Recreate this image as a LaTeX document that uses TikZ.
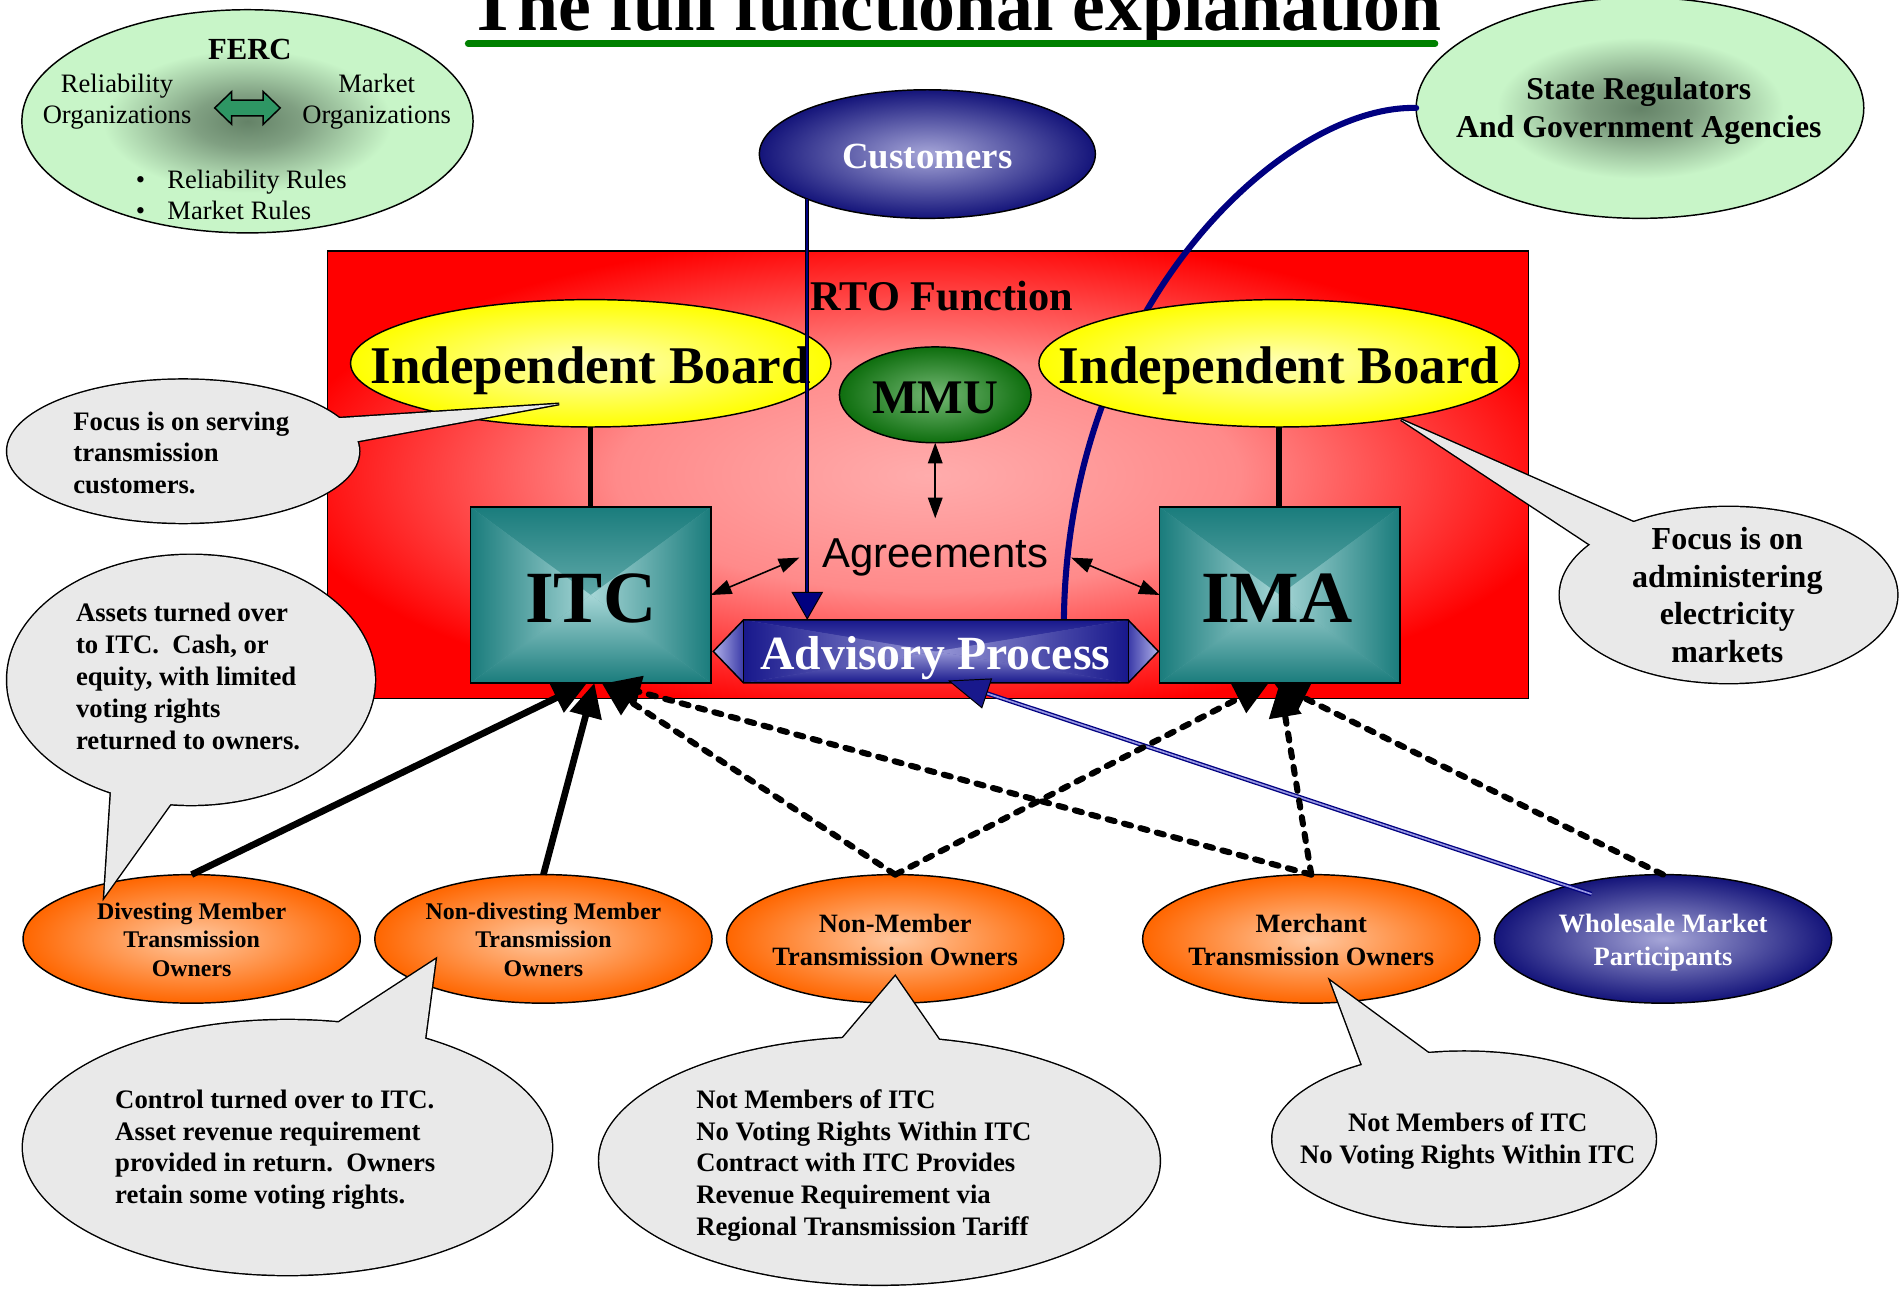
\documentclass[tikz,border=0pt]{standalone}
\usepackage{fontspec}
\setmainfont{Liberation Serif}
\newfontfamily\arialfont{Liberation Sans}
\usetikzlibrary{shapes.geometric,arrows.meta,calc}

\definecolor{navyline}{RGB}{0,0,128}
\definecolor{fercedge}{RGB}{200,245,200}
\definecolor{fercmid}{RGB}{100,130,103}
\definecolor{fercblend}{RGB}{128,160,130}
\definecolor{redbox}{RGB}{255,0,0}
\definecolor{redmid}{RGB}{255,172,172}
\definecolor{redblend}{RGB}{255,138,138}
\definecolor{tealedge}{RGB}{26,124,124}
\definecolor{tealmid}{RGB}{166,214,214}
\definecolor{yellowedge}{RGB}{255,255,0}
\definecolor{yellowmid}{RGB}{255,255,185}
\definecolor{greenedge}{RGB}{14,110,14}
\definecolor{greenmid}{RGB}{116,184,116}
\definecolor{orangeedge}{RGB}{255,102,0}
\definecolor{orangemid}{RGB}{255,200,160}
\definecolor{navyedge}{RGB}{20,20,122}
\definecolor{navymid}{RGB}{166,166,216}
\definecolor{advedge}{RGB}{24,24,140}
\definecolor{advmid}{RGB}{150,150,214}
\definecolor{caplight}{RGB}{176,176,232}
\definecolor{capdark}{RGB}{58,58,168}
\definecolor{calloutgray}{RGB}{233,233,233}
\definecolor{arrowgreen}{RGB}{46,150,100}
\definecolor{titlegreen}{RGB}{0,128,0}
\definecolor{lavender}{RGB}{150,150,225}

% pale green ovals with a dark core
\pgfdeclareradialshading{regulator}{\pgfpoint{0bp}{0bp}}{%
  color(0bp)=(fercmid); color(6bp)=(fercblend); color(16bp)=(fercedge);
  color(25bp)=(fercedge); color(50bp)=(fercedge)}
% glowing centre of the RTO box
\pgfdeclareradialshading{rtoglow}{\pgfpoint{0bp}{0bp}}{%
  color(0bp)=(redmid); color(13bp)=(redblend); color(27bp)=(redbox);
  color(50bp)=(redbox)}

\newcommand\setfs[2]{\fontsize{#1bp}{#2bp}\selectfont}
\newcommand\tb[2]{\begin{tabular}[t]{@{}#1@{}}#2\end{tabular}}

\begin{document}
\begin{tikzpicture}[x=1bp, y=-1bp,
  lbl/.style={inner sep=0pt, outer sep=0pt, anchor=base},
  oval/.style={ellipse, inner sep=0pt, outer sep=0pt, draw=black, line width=1.2bp},
  box/.style={rectangle, inner sep=0pt, outer sep=0pt, draw=black, line width=1.2bp},
  pyramid/.style 2 args={fill=#1!50!#2, path picture={
    \shade[top color=#1, bottom color=#2] (path picture bounding box.north west) -- (path picture bounding box.north east) -- (path picture bounding box.center) -- cycle;
    \shade[top color=#2, bottom color=#1] (path picture bounding box.south west) -- (path picture bounding box.south east) -- (path picture bounding box.center) -- cycle;
    \shade[left color=#1, right color=#2] (path picture bounding box.north west) -- (path picture bounding box.south west) -- (path picture bounding box.center) -- cycle;
    \shade[left color=#2, right color=#1] (path picture bounding box.north east) -- (path picture bounding box.south east) -- (path picture bounding box.center) -- cycle;
  }},
  orangeoval/.style={oval, shade, shading=radial, inner color=orangemid, outer color=orangeedge, minimum width=278bp, minimum height=106bp},
  navyoval/.style={oval, shade, shading=radial, inner color=navymid, outer color=navyedge},
  boardoval/.style={oval, shade, shading=radial, inner color=yellowmid, outer color=yellowedge, minimum width=396bp, minimum height=105bp},
  greenoval/.style={oval, shade, shading=regulator},
  calloutedge/.style={ellipse, inner sep=0pt, outer sep=0pt, draw=black, line width=2.4bp},
  calloutfill/.style={ellipse, inner sep=0pt, outer sep=0pt, fill=calloutgray},
  tailedge/.style={draw=black, line width=2.4bp, line join=miter},
  bigtip/.style={arrows={-Triangle[length=28bp,width=26bp]}},
  solidfeed/.style={line width=5.5bp, bigtip},
  dashfeed/.style={line width=5bp, line cap=round, dash pattern=on 6bp off 8bp, bigtip},
  twoway/.style={line width=1.3bp, arrows={Triangle[length=17bp,width=12bp]-Triangle[length=17bp,width=12bp]}},
  custline/.style={draw=navyline, line width=1.6bp,
    preaction={draw=black, line width=3.2bp, -, shorten >=12bp},
    arrows={-Triangle[length=23bp,width=26bp,fill=navyline,color=black,line width=0.8bp]}},
  wsline/.style={draw=lavender, line width=1.4bp,
    preaction={draw=navyline, line width=3.6bp, -, shorten >=20bp},
    arrows={-Triangle[length=34bp,width=26bp,fill=advedge,color=black,line width=0.8bp]}}
]
\useasboundingbox (0,0) rectangle (1568,1063);

% ---------- title ----------
\node[lbl, font={\bfseries\setfs{60.8}{70}}] (title) at (787,25) {The full functional explanation};
\draw[titlegreen, line width=5.5bp, line cap=round] (386,36) -- (1183,36);

% ---------- FERC ----------
\node[greenoval, minimum width=372bp, minimum height=184bp] (ferc) at (204,100) {};
\node[lbl, font={\bfseries\setfs{25.3}{30}}] (fercname) at (206,49) {FERC};
\node[lbl, font={\setfs{21.9}{25.3}}] (relorg) at (96.5,76.4) {\tb{c}{Reliability\\Organizations}};
\node[lbl, font={\setfs{21.9}{25.3}}] (mktorg) at (310.5,76.4) {\tb{c}{Market\\Organizations}};
\draw[fill=arrowgreen, line width=1.2bp, line join=miter]
  (177,89) -- (191,75.5) -- (191,82.5) -- (217,82.5) -- (217,75.5) -- (231,89)
  -- (217,102.5) -- (217,95.5) -- (191,95.5) -- (191,102.5) -- cycle;
\node[lbl, anchor=base west, font={\setfs{21.9}{26}}] (relrules) at (112,155) {\makebox[26bp][l]{\textbullet}Reliability Rules};
\node[lbl, anchor=base west, font={\setfs{21.9}{26}}] (mktrules) at (112,181) {\makebox[26bp][l]{\textbullet}Market Rules};

% ---------- state regulators ----------
\node[greenoval, minimum width=369bp, minimum height=182bp] (state) at (1352,89) {};
\node[lbl, font={\bfseries\setfs{26.2}{31}}] (statetext) at (1351,82) {\tb{c}{State Regulators\\And Government Agencies}};

% ---------- customers ----------
\node[navyoval, minimum width=277bp, minimum height=106bp] (cust) at (764.5,127) {};
\node[lbl, text=white, font={\bfseries\setfs{30.4}{36}}] (custtext) at (764.5,139) {Customers};

% ---------- RTO function box ----------
\node[box, line width=1bp, minimum width=990bp, minimum height=369bp, shade, shading=rtoglow] (rto) at (765,391.5) {};
\node[lbl, font={\bfseries\setfs{34.9}{40}}] (rtotext) at (776.5,256) {RTO Function};

% advisory process frame (placed early so the regulator line can reach it)
\node[rectangle, inner sep=0pt, outer sep=0pt, minimum width=317bp, minimum height=52bp] (adv) at (771.5,537) {};

% regulators reach the advisory process
\draw[navyline, line width=5bp, line cap=round] (state.west) .. controls (1060,86) and (880,250) .. ($(adv.north west)!0.833!(adv.north east)$);

% boards and market monitor
\node[boardoval] (ibl) at (487,299.5) {};
\node[lbl, font={\bfseries\setfs{43.7}{50}}] (ibltext) at (487,316) {Independent Board};
\node[boardoval] (ibr) at (1054.5,299.5) {};
\node[lbl, font={\bfseries\setfs{43.7}{50}}] (ibrtext) at (1054.5,316) {Independent Board};
\node[oval, shade, shading=radial, inner color=greenmid, outer color=greenedge, minimum width=158bp, minimum height=79bp] (mmu) at (771,325.5) {};
\node[lbl, font={\bfseries\setfs{39.8}{46}}] (mmutext) at (771,340.6) {MMU};

% ITC and IMA
\node[box, minimum width=198bp, minimum height=145bp, pyramid={tealedge}{tealmid}] (itc) at (487,490.5) {};
\node[lbl, font={\bfseries\setfs{60.7}{70}}] (itctext) at (487,513) {ITC};
\node[box, minimum width=198bp, minimum height=145bp, pyramid={tealedge}{tealmid}] (ima) at (1055,490.5) {};
\node[lbl, font={\bfseries\setfs{60.7}{70}}] (imatext) at (1052.5,513) {IMA};
\draw[line width=4.5bp] (ibl.south) -- (itc.north);
\draw[line width=4.5bp] (ibr.south) -- (ibr.south |- ima.north);

% advisory process body
\node[rectangle, inner sep=0pt, outer sep=0pt, minimum width=317bp, minimum height=52bp, pyramid={advedge}{advmid}] (advbody) at (adv.center) {};
\shade[left color=caplight, right color=capdark] (adv.north west) -- ($(adv.west)+(-25,0)$) -- (adv.south west) -- cycle;
\shade[left color=capdark, right color=caplight] (adv.north east) -- ($(adv.east)+(25,0)$) -- (adv.south east) -- cycle;
\draw[line width=1.2bp, line join=miter] (adv.north west) -- ($(adv.west)+(-25,0)$) -- (adv.south west) -- (adv.south east) -- ($(adv.east)+(25,0)$) -- (adv.north east) -- cycle;
\draw[line width=1bp] (adv.north west) -- (adv.south west) (adv.north east) -- (adv.south east);
\node[lbl, text=white, font={\bfseries\setfs{39.3}{45}}] (advtext) at (771,552) {Advisory Process};

% agreements
\node[anchor=base, outer sep=0pt, inner xsep=19bp, inner ysep=17bp, font={\arialfont\setfs{34.5}{40}}] (agree) at (771,468) {Agreements};
\draw[twoway] (mmu.south) -- (agree.north);
\draw[twoway] (itc.east) -- (agree.west);
\draw[twoway] (agree.east) -- (ima.west);

% customers feed the advisory process
\coordinate (custfoot) at ($(cust.center)+(-99,37)$);
\draw[custline] (custfoot) -- (custfoot |- adv.north);

% ---------- transmission owners and market participants ----------
\node[orangeoval] (div) at (158,774) {};
\node[lbl, font={\bfseries\setfs{19.7}{23.5}}] (divtext) at (158,758) {\tb{c}{Divesting Member\\Transmission\\Owners}};
\node[orangeoval] (nd) at (448,774) {};
\node[lbl, font={\bfseries\setfs{19.7}{23.5}}] (ndtext) at (448,758) {\tb{c}{Non-divesting Member\\Transmission\\Owners}};
\node[orangeoval] (nm) at (738,774) {};
\node[lbl, font={\bfseries\setfs{21.8}{26.6}}] (nmtext) at (738,769) {\tb{c}{Non-Member\\Transmission Owners}};
\node[orangeoval] (mer) at (1081,774) {};
\node[lbl, font={\bfseries\setfs{21.8}{26.6}}] (mertext) at (1081,769) {\tb{c}{Merchant\\Transmission Owners}};
\node[navyoval, minimum width=278bp, minimum height=106bp] (ws) at (1371,774) {};
\node[lbl, text=white, font={\bfseries\setfs{21.9}{26.6}}] (wstext) at (1371,769) {\tb{c}{Wholesale Market\\Participants}};

% wholesale participants feed the advisory process
\coordinate (wsfoot) at ($(ws.center)+(-59,-37)$);
\draw[wsline] (wsfoot) -- ($(adv.south)+(10,-2)$);

% owners into ITC and IMA
\draw[solidfeed] (div.north) -- ($(itc.south)+(-3,0)$);
\draw[solidfeed] (nd.north) -- ($(itc.south)+(3,0)$);
\draw[dashfeed] (nm.north) -- ($(itc.south)+(9,0)$);
\draw[dashfeed] (mer.north) -- ($(itc.south)+(13,0)$);
\draw[dashfeed] (nm.north) -- ($(ima.south)+(-9,0)$);
\draw[dashfeed] (mer.north) -- (ima.south);
\draw[dashfeed] (ws.north) -- ($(ima.south)+(-5,0)$);

% ---------- callouts ----------
% serving transmission customers
\node[calloutedge, minimum width=290bp, minimum height=118bp] (servingrim) at (151,372) {};
\draw[tailedge] (276,345) -- (461,333) -- (293,364);
\node[calloutfill, minimum width=290bp, minimum height=118bp] (serving) at (151,372) {};
\fill[calloutgray] (276,345) -- (461,333) -- (293,364) -- cycle;
\node[lbl, anchor=base west, font={\bfseries\setfs{22}{26.1}}] (servingtext) at (60.5,354.5) {\tb{l}{Focus is on serving\\transmission\\customers.}};

% assets turned over
\node[calloutedge, minimum width=303bp, minimum height=206bp] (assetsrim) at (157.5,560.5) {};
\draw[tailedge] (92,646) -- (86,739) -- (146,655);
\node[calloutfill, minimum width=303bp, minimum height=206bp] (assets) at (157.5,560.5) {};
\fill[calloutgray] (92,646) -- (86,739) -- (146,655) -- cycle;
\node[lbl, anchor=base west, font={\bfseries\setfs{22}{26.4}}] (assetstext) at (62.7,512) {\tb{l}{Assets turned over\\to ITC.\ \ Cash, or\\equity, with limited\\voting rights\\returned to owners.}};

% administering markets
\node[calloutedge, minimum width=278bp, minimum height=145bp] (marketsrim) at (1425,490.5) {};
\draw[tailedge] (1350,432) -- (1155,346) -- (1314,451);
\node[calloutfill, minimum width=278bp, minimum height=145bp] (markets) at (1425,490.5) {};
\fill[calloutgray] (1350,432) -- (1155,346) -- (1314,451) -- cycle;
\node[lbl, font={\bfseries\setfs{26.4}{31}}] (marketstext) at (1424,453) {\tb{c}{Focus is on\\administering\\electricity\\markets}};

% control turned over
\node[calloutedge, minimum width=436bp, minimum height=210bp] (controlrim) at (237,946) {};
\draw[tailedge] (276,845) -- (359,791) -- (350,859);
\node[calloutfill, minimum width=436bp, minimum height=210bp] (control) at (237,946) {};
\fill[calloutgray] (276,845) -- (359,791) -- (350,859) -- cycle;
\node[lbl, anchor=base west, font={\bfseries\setfs{22}{26.2}}] (controltext) at (95,913.6) {\tb{l}{Control turned over to ITC.\\Asset revenue requirement\\provided in return.\ \ Owners\\retain some voting rights.}};

% non-members
\node[calloutedge, minimum width=462bp, minimum height=204bp] (nonmemrim) at (725,957) {};
\draw[tailedge] (693,858) -- (738,805) -- (776,860);
\node[calloutfill, minimum width=462bp, minimum height=204bp] (nonmem) at (725,957) {};
\fill[calloutgray] (693,858) -- (738,805) -- (776,860) -- cycle;
\node[lbl, anchor=base west, font={\bfseries\setfs{22}{26.2}}] (nonmemtext) at (574,913.6) {\tb{l}{Not Members of ITC\\No Voting Rights Within ITC\\Contract with ITC Provides\\Revenue Requirement via\\Regional Transmission Tariff}};

% merchants
\node[calloutedge, minimum width=316bp, minimum height=144bp] (merchrim) at (1207,939) {};
\draw[tailedge] (1124,881) -- (1097,809) -- (1180,870);
\node[calloutfill, minimum width=316bp, minimum height=144bp] (merch) at (1207,939) {};
\fill[calloutgray] (1124,881) -- (1097,809) -- (1180,870) -- cycle;
\node[lbl, font={\bfseries\setfs{22}{26}}] (merchtext) at (1210,933) {\tb{c}{Not Members of ITC\\No Voting Rights Within ITC}};

\end{tikzpicture}
\end{document}
